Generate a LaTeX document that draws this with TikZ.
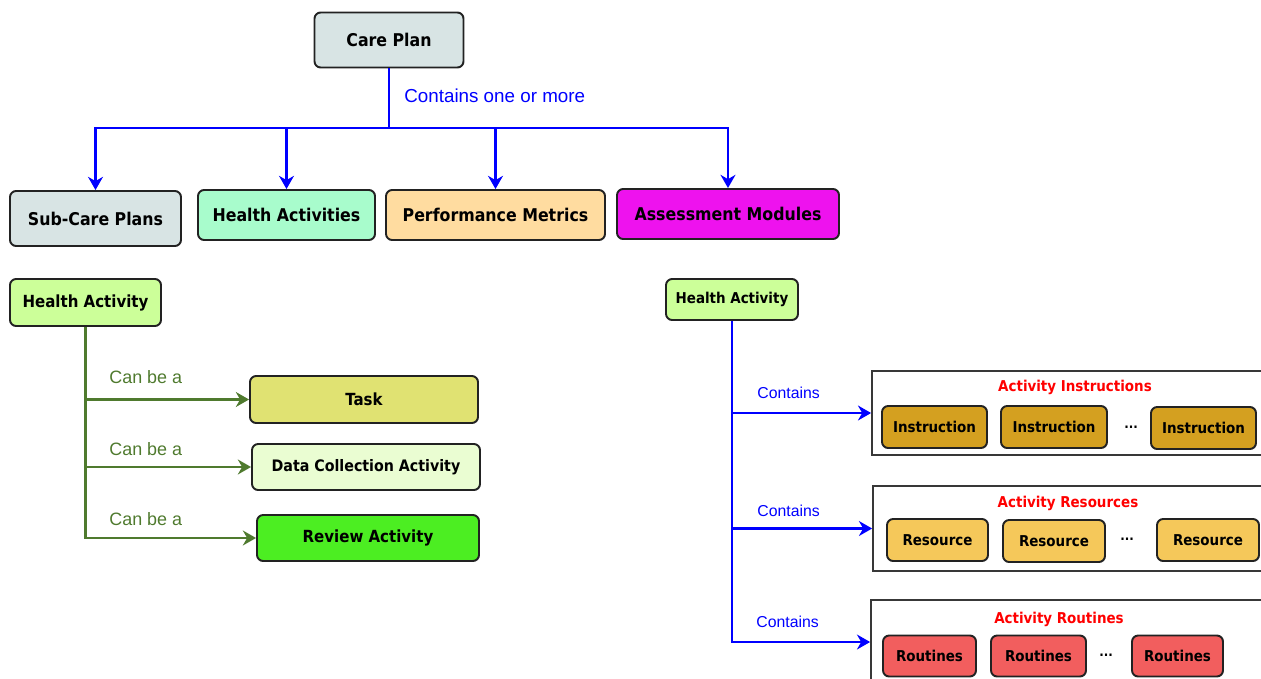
\documentclass[tikz,border=0pt]{standalone}
\usepackage{fontspec}
\setsansfont{DejaVu Sans Condensed}
\newfontfamily\lblfont{Liberation Sans}
\usetikzlibrary{arrows.meta,positioning}
\newlength\pxu
\setlength\pxu{0.02cm}
\definecolor{cpgray}{HTML}{D8E4E4}
\definecolor{mint}{HTML}{A8FCCC}
\definecolor{peach}{HTML}{FFDCA0}
\definecolor{magen}{HTML}{EE12EE}
\definecolor{hagreen}{HTML}{CCFF99}
\definecolor{taskyel}{HTML}{E0E272}
\definecolor{dcgreen}{HTML}{EAFDD2}
\definecolor{revgreen}{HTML}{4CEE22}
\definecolor{instgold}{HTML}{D4A020}
\definecolor{resyel}{HTML}{F5C85A}
\definecolor{routred}{HTML}{F25E5E}
\definecolor{linkgreen}{HTML}{4F7A2E}
\definecolor{edge}{HTML}{222222}
\tikzset{
  box/.style={draw=edge, line width=1.1pt, rounded corners=3.5pt, inner sep=0pt, align=center},
  sz/.style 2 args={minimum width=#1\pxu, minimum height=#2\pxu},
  fs/.style={font=\sffamily\bfseries\fontsize{#1}{#1}\selectfont},
  cont/.style={draw=edge!90, line width=1pt, inner sep=0pt},
  ttl/.style={fs=8.5, text=red},
  lbl/.style={font=\lblfont\fontsize{#1}{#1}\selectfont, anchor=west, inner sep=0pt},
  bluelink/.style={draw=blue, line width=1.6pt},
  greenlink/.style={draw=linkgreen, line width=1.4pt}
}
\begin{document}
\begin{tikzpicture}[x=0.02cm, y=-0.02cm, >={Stealth[length=7.5pt,width=8.5pt]}]
\clip (0,0) rectangle (1261,679);
% top level
\node[box, sz={149}{55}, fill=cpgray, fs=10] (careplan) at (389,40) {Care Plan};
\node[box, sz={171}{55}, fill=cpgray, fs=10] (subcare) at (95.5,218.5) {Sub-Care Plans};
\node[box, sz={177}{50}, fill=mint, fs=10] (healthacts) at (286.5,215) {Health Activities};
\node[box, sz={219}{50}, fill=peach, fs=10] (perfmet) at (495.5,215) {Performance Metrics};
\node[box, sz={222}{50}, fill=magen, fs=10] (assess) at (728,214) {Assessment Modules};
\coordinate (hub) at (389,128);
\draw[bluelink] (careplan.south) -- (hub);
\foreach \n in {subcare,healthacts,perfmet,assess}
  \draw[bluelink,->] (hub) -| (\n.north);
\node[lbl=10.7, text=blue] (cplabel) at (404,96) {Contains one or more};
% health activity, kinds
\node[box, sz={151}{47}, fill=hagreen, fs=9.5] (haleft) at (85.5,302.5) {Health Activity};
\node[box, sz={228}{47}, fill=taskyel, fs=9.5] (task) at (364,399.5) {Task};
\node[box, sz={228}{46}, fill=dcgreen, fs=9] (datacoll) at (366,467) {Data Collection Activity};
\node[box, sz={222}{46}, fill=revgreen, fs=9.5] (review) at (368,538) {Review Activity};
\foreach \n in {task,datacoll,review}
  \draw[greenlink,->] (haleft.south) |- (\n.west);
\node[lbl=10.2, text=linkgreen] (canbe1) at (109,377) {Can be a};
\node[lbl=10.2, text=linkgreen] (canbe2) at (109,449) {Can be a};
\node[lbl=10.2, text=linkgreen] (canbe3) at (109,519) {Can be a};
% health activity, contents
\node[box, sz={132}{41}, fill=hagreen, fs=8.5] (haright) at (732,299.5) {Health Activity};
\node[cont, sz={400}{84}] (instcont) at (1072,413) {};
\node[cont, sz={400}{85}] (rescont) at (1073,528.5) {};
\node[cont, sz={400}{84}] (routcont) at (1071,642) {};
\foreach \n in {instcont,rescont,routcont}
  \draw[bluelink,->] (haright.south) |- (\n.west);
\node[lbl=9, text=blue] (cont1) at (757,393) {Contains};
\node[lbl=9, text=blue] (cont2) at (757,511) {Contains};
\node[lbl=9, text=blue] (cont3) at (756,622) {Contains};
\node[ttl] (insttitle) at (1075,387) {Activity Instructions};
\node[box, sz={105}{42}, fill=instgold, fs=8.5] (inst1) at (934.5,427) {Instruction};
\node[box, sz={106}{42}, fill=instgold, fs=8.5] (inst2) at (1054,427) {Instruction};
\node[fs=7.5] (instdots) at (1131,427) {...};
\node[box, sz={105}{42}, fill=instgold, fs=8.5] (inst3) at (1203.5,428) {Instruction};
\node[ttl] (restitle) at (1068,503) {Activity Resources};
\node[box, sz={101}{42}, fill=resyel, fs=8.5] (res1) at (937.5,540) {Resource};
\node[box, sz={102}{42}, fill=resyel, fs=8.5] (res2) at (1054,541) {Resource};
\node[fs=7.5] (resdots) at (1127,539) {...};
\node[box, sz={102}{42}, fill=resyel, fs=8.5] (res3) at (1208,540) {Resource};
\node[ttl] (routtitle) at (1059,619) {Activity Routines};
\node[box, sz={93}{41}, fill=routred, fs=8.5] (rout1) at (929.5,656) {Routines};
\node[box, sz={95}{41}, fill=routred, fs=8.5] (rout2) at (1038.5,656) {Routines};
\node[fs=7.5] (routdots) at (1106,655) {...};
\node[box, sz={91}{41}, fill=routred, fs=8.5] (rout3) at (1177.5,656) {Routines};
\end{tikzpicture}
\end{document}
